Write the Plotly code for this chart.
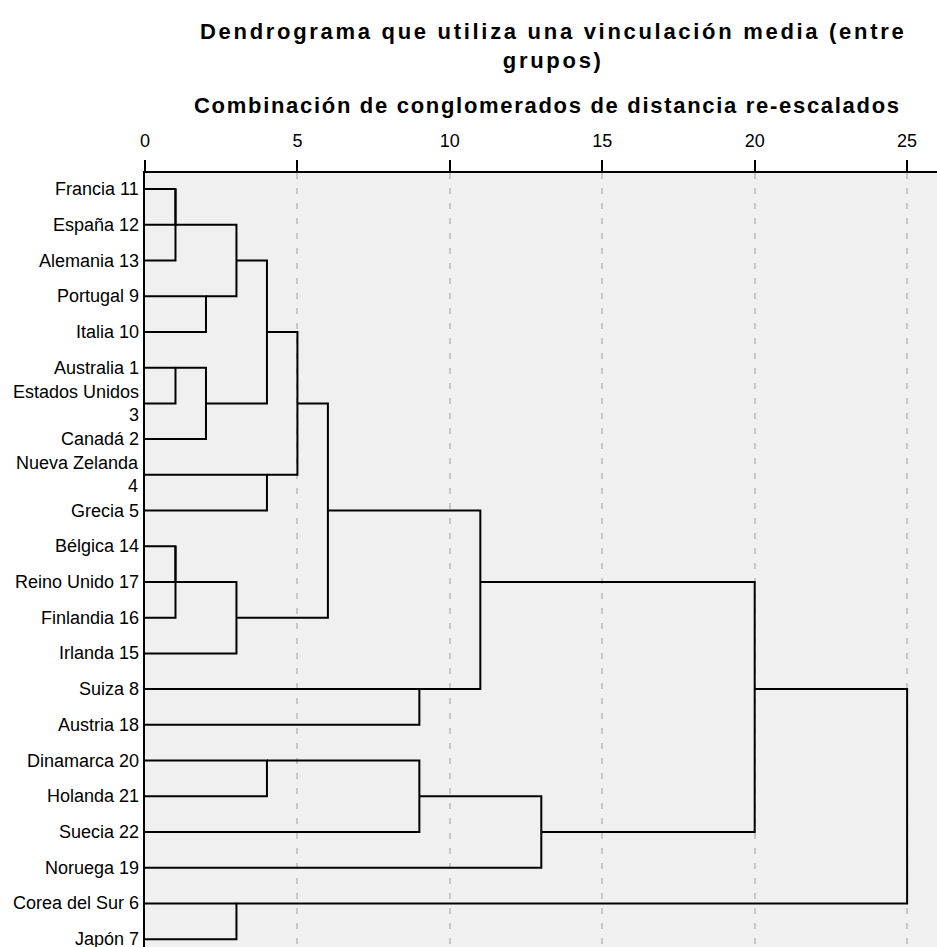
import plotly.graph_objects as go

# Leaf labels in display order (top to bottom)
leaf_labels = [
    "Francia 11", "España 12", "Alemania 13", "Portugal 9", "Italia 10",
    "Australia 1", "Estados Unidos<br>3", "Canadá 2", "Nueva Zelanda<br>4", "Grecia 5",
    "Bélgica 14", "Reino Unido 17", "Finlandia 16", "Irlanda 15", "Suiza 8",
    "Austria 18", "Dinamarca 20", "Holanda 21", "Suecia 22", "Noruega 19",
    "Corea del Sur 6", "Japón 7",
]

# Merge table (SPSS-style): child A id, child B id, rescaled distance
# ids 0..21 are leaves; each merge creates id 22, 23, ...
merge_a = [0, 22, 3, 23, 5, 26, 25, 8, 28, 10, 31, 32, 30, 14, 34, 16, 37, 38, 36, 20, 40]
merge_b = [1, 2, 4, 24, 6, 7, 27, 9, 29, 11, 12, 13, 33, 15, 35, 17, 18, 19, 39, 21, 41]
merge_h = [1, 1, 2, 3, 1, 2, 4, 4, 5, 1, 1, 3, 6, 9, 11, 4, 9, 13, 20, 3, 25]

x_ticks = [0, 5, 10, 15, 20, 25]

title_text = "Dendrograma que utiliza una vinculación media (entre<br>grupos)"
subtitle_text = "Combinación de conglomerados de distancia re-escalados"

n = len(leaf_labels)
row = {i: i for i in range(n)}
height = {i: 0 for i in range(n)}

xs, ys = [], []
for k, (a, b, h) in enumerate(zip(merge_a, merge_b, merge_h)):
    ra, rb = row[a], row[b]
    xs += [height[a], h, h, height[b], None]
    ys += [ra, ra, rb, rb, None]
    new_id = n + k
    row[new_id] = (ra + rb) // 2
    height[new_id] = h

fig = go.Figure()
fig.add_trace(go.Scatter(
    x=xs, y=ys, mode="lines",
    line=dict(color="black", width=2),
    hoverinfo="skip", showlegend=False,
))

font_family = "Liberation Sans, Arial, sans-serif"

sp1 = "<span style='letter-spacing:2.7px'>"
sp2 = "<span style='letter-spacing:1.7px'>"
annotations = [
    dict(text="<b>" + sp1 + title_text.replace("<br>", "</span><br>" + sp1) + "</span></b>",
         xref="paper", yref="paper",
         x=0.515, y=1.0, yshift=156, xanchor="center", yanchor="top",
         showarrow=False, font=dict(size=22, family=font_family), align="center"),
    dict(text="<b>" + sp2 + subtitle_text + "</span></b>",
         xref="paper", yref="paper",
         x=0.508, y=1.0, yshift=82, xanchor="center", yanchor="top",
         showarrow=False, font=dict(size=22, family=font_family)),
]
for i, lab in enumerate(leaf_labels):
    annotations.append(dict(
        text=lab, xref="paper", yref="y", x=0, y=i,
        xanchor="right", yanchor="middle", xshift=-4, align="right",
        showarrow=False, font=dict(size=18, family=font_family, color="black"),
    ))

fig.update_layout(
    width=937, height=947,
    margin=dict(l=145, r=0, t=173, b=0),
    paper_bgcolor="white",
    plot_bgcolor="#f0f0f0",
    font=dict(family=font_family, size=18, color="black"),
    showlegend=False,
    annotations=annotations,
)

fig.update_xaxes(
    side="top", range=[0, 25.98], automargin=False,
    tickvals=x_ticks, ticktext=[str(t) for t in x_ticks],
    ticks="outside", ticklen=11, tickwidth=2, tickcolor="black",
    showline=True, linewidth=2, linecolor="black",
    showgrid=True, gridcolor="#c8c8c8", gridwidth=1.5, griddash="6px,9px",
    zeroline=False, tickfont=dict(size=18), ticklabelstandoff=6,
)
fig.update_yaxes(
    range=[21.22, -0.45], automargin=False,
    showticklabels=False, ticks="",
    showline=True, linewidth=2, linecolor="black",
    showgrid=False, zeroline=False,
)

fig.write_html(
    "out.html",
    config={"displayModeBar": False},
    post_script="document.body.style.margin='0';document.body.style.overflow='hidden';",
)
